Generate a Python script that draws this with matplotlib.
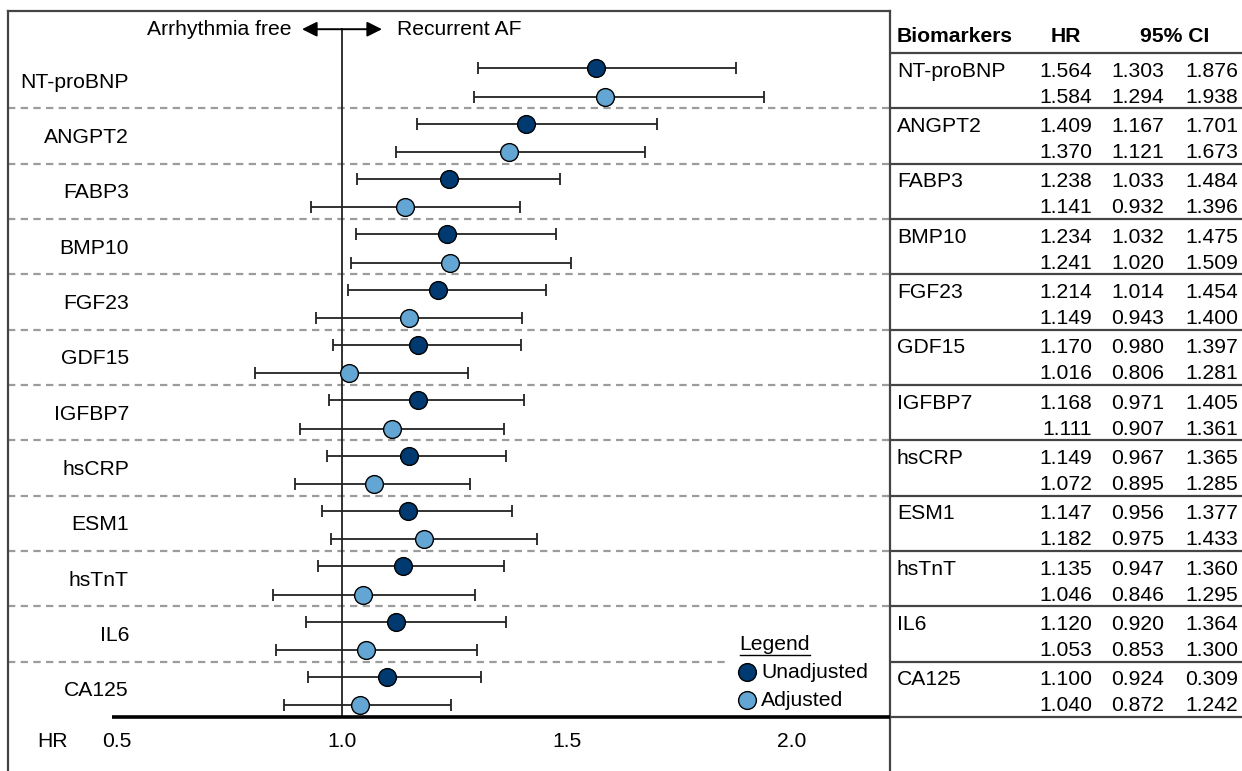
import matplotlib
matplotlib.use("Agg")
import matplotlib.pyplot as plt

plt.rcParams['font.family'] = ['Liberation Sans', 'DejaVu Sans']

# ---------------- data ----------------
names = ["NT-proBNP", "ANGPT2", "FABP3", "BMP10", "FGF23", "GDF15",
         "IGFBP7", "hsCRP", "ESM1", "hsTnT", "IL6", "CA125"]
unadj_hr = [1.564, 1.409, 1.238, 1.234, 1.214, 1.170, 1.168, 1.149, 1.147, 1.135, 1.120, 1.100]
unadj_lo = [1.303, 1.167, 1.033, 1.032, 1.014, 0.980, 0.971, 0.967, 0.956, 0.947, 0.920, 0.924]
unadj_hi = [1.876, 1.701, 1.484, 1.475, 1.454, 1.397, 1.405, 1.365, 1.377, 1.360, 1.364, 1.309]
adj_hr = [1.584, 1.370, 1.141, 1.241, 1.149, 1.016, 1.111, 1.072, 1.182, 1.046, 1.053, 1.040]
adj_lo = [1.294, 1.121, 0.932, 1.020, 0.943, 0.806, 0.907, 0.895, 0.975, 0.846, 0.853, 0.872]
adj_hi = [1.938, 1.673, 1.396, 1.509, 1.400, 1.281, 1.361, 1.285, 1.433, 1.295, 1.300, 1.242]
x_ticks = [0.5, 1.0, 1.5, 2.0]
x_tick_labels = ["0.5", "1.0", "1.5", "2.0"]
# the table as printed in the source (CA125 upper bound printed as 0.309)
unadj_hi_printed = [f"{v:.3f}" for v in unadj_hi]
unadj_hi_printed[-1] = "0.309"

# ---------------- style ----------------
DARK = "#003A70"
LIGHT = "#64A6D3"
LINEC = "#444444"
FS = 15.2
W, H = 1242, 771

fig = plt.figure(figsize=(W / 100, H / 100), dpi=100)

# layout in pixels
left_px, div_px, top_px = 8, 890, 11
row_px = 55.33
grp0_px = 53
ylim = ((H - grp0_px) / row_px, (top_px - grp0_px) / row_px)

ax = fig.add_axes([left_px / W, 0, (div_px - left_px) / W, (H - top_px) / H])
one_px, per_unit = 342, 450.0
xlim = (1 - (one_px - left_px) / per_unit, 1 + (div_px - one_px) / per_unit)
ax.set_xlim(*xlim)
ax.set_ylim(*ylim)
ax.set_xticks([])
ax.set_yticks([])
for s in ["top", "left", "right"]:
    ax.spines[s].set_color(LINEC)
    ax.spines[s].set_linewidth(1.6)
ax.spines["bottom"].set_visible(False)

n = len(names)
off_u, off_a = 0.28, 0.79
yu = [i + off_u for i in range(n)]
ya = [i + off_a for i in range(n)]

# separators
for i in range(1, n):
    xmax = 1.0 if i < n - 1 else (1.862 - xlim[0]) / (xlim[1] - xlim[0])
    ax.axhline(i, xmin=0, xmax=xmax, color="#9c9c9c", lw=1.6,
               dashes=(3.3, 2.4), zorder=1)

# reference line and axis
ax.plot([1.0, 1.0], [-0.43, n], color="#222222", lw=1.3, zorder=2)
ax.plot([0.49, xlim[1]], [n, n], color="black", lw=2.6, zorder=3, clip_on=False,
        solid_capstyle="butt")

# error bars
def draw(hr, lo, hi, ys, col):
    xerr = [[h - l for h, l in zip(hr, lo)], [u - h for h, u in zip(hr, hi)]]
    ax.errorbar(hr, ys, xerr=xerr, fmt="none", ecolor="#222222", elinewidth=1.3,
                capsize=4, capthick=1.3, zorder=4)
    ax.plot(hr, ys, "o", ms=12.8, mfc=col, mec="black", mew=1.0, zorder=5, ls="none")

draw(unadj_hr, unadj_lo, unadj_hi, yu, DARK)
draw(adj_hr, adj_lo, adj_hi, ya, LIGHT)

# biomarker labels
label_x = 1 - (one_px - 129) / per_unit
for i, nm in enumerate(names):
    ax.text(label_x, i + 0.53, nm, ha="right", va="center", fontsize=FS)

# tick labels
for v, t in zip(x_ticks, x_tick_labels):
    ax.text(v, n + 0.45, t, ha="center", va="center", fontsize=FS)
ax.text(1 - (one_px - 53) / per_unit, n + 0.45, "HR", ha="center", va="center", fontsize=FS)

# header arrow
ya_arrow = -0.43
ax.annotate("", xy=(1 - 40 / per_unit, ya_arrow), xytext=(1 + 40 / per_unit, ya_arrow),
            arrowprops=dict(arrowstyle="<|-|>,head_length=0.6,head_width=0.3",
                            color="black", lw=1.4,
                            mutation_scale=15, shrinkA=0, shrinkB=0))
ax.text(1 - 50 / per_unit, ya_arrow, "Arrhythmia free", ha="right", va="center", fontsize=FS)
ax.text(1 + 55 / per_unit, ya_arrow, "Recurrent AF", ha="left", va="center", fontsize=FS)

# legend
leg_y0 = (644 - grp0_px) / row_px
leg_y1 = (672 - grp0_px) / row_px
leg_y2 = (700 - grp0_px) / row_px
lx_mark = 1 + (747 - one_px) / per_unit
lx_text = 1 + (761 - one_px) / per_unit
leg_t = ax.text(1 + (775 - one_px) / per_unit, leg_y0, "Legend", ha="center", va="center", fontsize=FS)
ax.plot([lx_mark], [leg_y1], "o", ms=12.8, mfc=DARK, mec="black", mew=1.0)
ax.plot([lx_mark], [leg_y2], "o", ms=12.8, mfc=LIGHT, mec="black", mew=1.0)
ax.text(lx_text, leg_y1, "Unadjusted", ha="left", va="center", fontsize=FS)
ax.text(lx_text, leg_y2, "Adjusted", ha="left", va="center", fontsize=FS)

# ---------------- table ----------------
tx = fig.add_axes([div_px / W, 0, (W - div_px) / W, (H - top_px) / H])
tx.set_xlim(0, W - div_px)
tx.set_ylim(*ylim)
tx.axis("off")
for i in range(n + 1):
    tx.plot([0, W - div_px], [i, i], color=LINEC, lw=1.6, solid_capstyle="butt")
hy = (37 - grp0_px) / row_px
tx.text(7, hy, "Biomarkers", ha="left", va="center", fontsize=FS, fontweight="bold")
tx.text(176, hy, "HR", ha="center", va="center", fontsize=FS, fontweight="bold")
tx.text(285, hy, "95% CI", ha="center", va="center", fontsize=FS, fontweight="bold")
cols = [202, 274, 348]
for i in range(n):
    y1, y2 = i + 0.33, i + 0.80
    tx.text(7, y1, names[i], ha="left", va="center", fontsize=FS)
    for cx, s in zip(cols, [f"{unadj_hr[i]:.3f}", f"{unadj_lo[i]:.3f}", unadj_hi_printed[i]]):
        tx.text(cx, y1, s, ha="right", va="center", fontsize=FS)
    for cx, s in zip(cols, [f"{adj_hr[i]:.3f}", f"{adj_lo[i]:.3f}", f"{adj_hi[i]:.3f}"]):
        tx.text(cx, y2, s, ha="right", va="center", fontsize=FS)

# underline "Legend"
fig.canvas.draw()
bb = leg_t.get_window_extent()
inv = ax.transData.inverted()
(x0, yb), (x1, _) = inv.transform([(bb.x0, bb.y0 - 1), (bb.x1, bb.y0 - 1)])
ax.plot([x0, x1], [yb, yb], color="black", lw=1.0)

fig.savefig("out.png", dpi=100)
